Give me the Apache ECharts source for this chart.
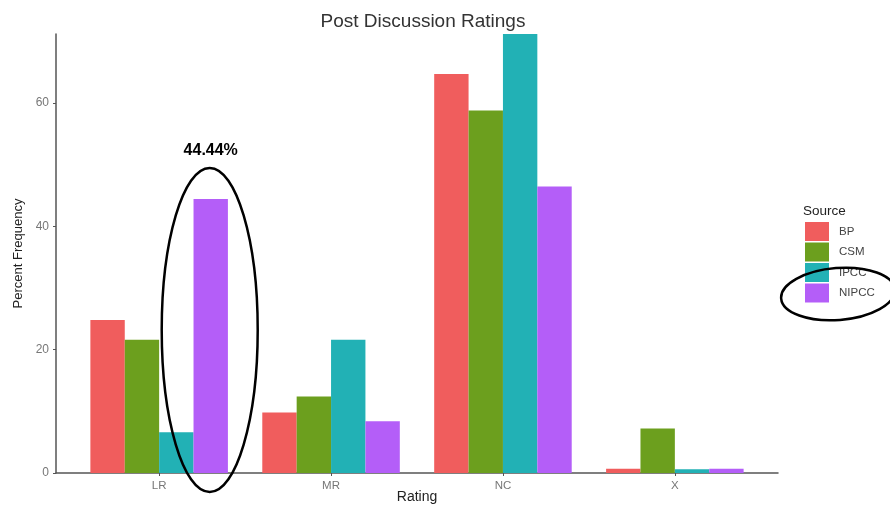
<!DOCTYPE html>
<html>
<head>
<meta charset="utf-8">
<script src="https://cdn.jsdelivr.net/npm/echarts@6/dist/echarts.min.js"></script>
<style>
  html, body { margin: 0; padding: 0; background: #fff; }
  #chart { width: 890px; height: 506px; }
</style>
</head>
<body>
<div id="chart"></div>
<script>
// Rating categories and percent frequency by source
const categories = ['LR', 'MR', 'NC', 'X'];
const sources = ['BP', 'CSM', 'IPCC', 'NIPCC'];
const bpValues = [24.8, 9.8, 64.7, 0.7];
const csmValues = [21.6, 12.4, 58.8, 7.2];
const ipccValues = [6.6, 21.6, 71.2, 0.6];
const nipccValues = [44.44, 8.4, 46.46, 0.7];
const yTicks = [0, 20, 40, 60];

const colors = ['#F05D5D', '#6C9F1E', '#22B1B5', '#B45EF8'];
const seriesValues = [bpValues, csmValues, ipccValues, nipccValues];
const FONT = '"Liberation Sans", Arial, sans-serif';

// categories sit at positions 1..n on a numeric axis, padded by 0.6 on each side
const catPos = categories.map((_, i) => i + 1);

const chart = echarts.init(document.getElementById('chart'), null, { renderer: 'canvas' });

const series = sources.map((name, i) => ({
  name: name,
  type: 'bar',
  data: seriesValues[i].map((v, j) => {
    // highlighted NIPCC value in the LR group
    if (i === 3 && j === 0) {
      return {
        value: [catPos[j], v],
        label: {
          show: true,
          position: 'top',
          distance: 40,
          formatter: (p) => p.value[1].toFixed(2) + '%',
          color: '#000',
          fontWeight: 'bold',
          fontSize: 16,
          fontFamily: FONT
        }
      };
    }
    return [catPos[j], v];
  }),
  itemStyle: { color: colors[i] },
  barGap: '0%',
  barCategoryGap: '20%',
  emphasis: { disabled: true }
}));

const option = {
  animation: false,
  color: colors,
  title: {
    text: 'Post Discussion Ratings',
    left: 418,
    textAlign: 'center',
    top: 7,
    textStyle: { fontFamily: FONT, fontSize: 19, fontWeight: 'normal', color: '#333' }
  },
  legend: {
    data: sources,
    orient: 'vertical',
    left: 805,
    top: 222,
    padding: 0,
    itemWidth: 24,
    itemHeight: 19,
    itemGap: 1.5,
    icon: 'rect',
    textStyle: { fontFamily: FONT, fontSize: 11.5, color: '#444', padding: [0, 0, 0, 5] },
    selectedMode: false
  },
  grid: { left: 56, right: 112, top: 34, bottom: 33, outerBoundsMode: 'none' },
  xAxis: {
    type: 'value',
    min: 0.4,
    max: categories.length + 0.6,
    name: 'Rating',
    nameLocation: 'middle',
    nameGap: 17,
    nameMoveOverlap: false,
    nameTextStyle: { fontFamily: FONT, fontSize: 14, color: '#222' },
    axisLine: { show: true, lineStyle: { color: '#555', width: 1.5 } },
    axisTick: { show: true, length: 3, lineStyle: { color: '#555' }, customValues: catPos },
    axisLabel: {
      fontFamily: FONT, fontSize: 11.5, color: '#777', margin: 7,
      customValues: catPos,
      formatter: (v) => categories[Math.round(v) - 1] || ''
    },
    splitLine: { show: false }
  },
  yAxis: {
    type: 'value',
    min: 0,
    max: 71.2,
    interval: 20,
    name: 'Percent Frequency',
    nameLocation: 'middle',
    nameGap: 31,
    nameRotate: 90,
    nameMoveOverlap: false,
    nameTextStyle: { fontFamily: FONT, fontSize: 13, color: '#222' },
    axisLine: { show: true, lineStyle: { color: '#555', width: 1.5 } },
    axisTick: { show: true, length: 3, lineStyle: { color: '#555' }, customValues: yTicks },
    axisLabel: { fontFamily: FONT, fontSize: 12, color: '#777', margin: 7, customValues: yTicks },
    splitLine: { show: false }
  },
  series: series
};

chart.setOption(option);

// Outline rings: one around the highlighted LR/NIPCC bar, one around the NIPCC legend key
const c0 = chart.convertToPixel({ xAxisIndex: 0 }, catPos[0]);
const c1 = chart.convertToPixel({ xAxisIndex: 0 }, catPos[1]);
const band = c1 - c0;
const barW = band * 0.8 / 4;
const barCx = c0 + 1.5 * barW;
const barTop = chart.convertToPixel({ yAxisIndex: 0 }, nipccValues[0]);
const base = chart.convertToPixel({ yAxisIndex: 0 }, 0);

chart.setOption({
  graphic: [
    {
      type: 'ellipse',
      shape: { cx: barCx - 1, cy: (barTop + base) / 2 - 6, rx: 48, ry: 162 },
      style: { fill: 'none', stroke: '#000', lineWidth: 2.5 },
      z: 100
    },
    {
      type: 'ellipse',
      shape: { cx: 838, cy: 294, rx: 57, ry: 26 },
      rotation: 0.08,
      originX: 838,
      originY: 294,
      style: { fill: 'none', stroke: '#000', lineWidth: 2.5 },
      z: 100
    },
    {
      type: 'text',
      left: 803,
      top: 204,
      style: { text: 'Source', fontFamily: FONT, fontSize: 13.5, fill: '#222' }
    }
  ]
});
</script>
</body>
</html>
